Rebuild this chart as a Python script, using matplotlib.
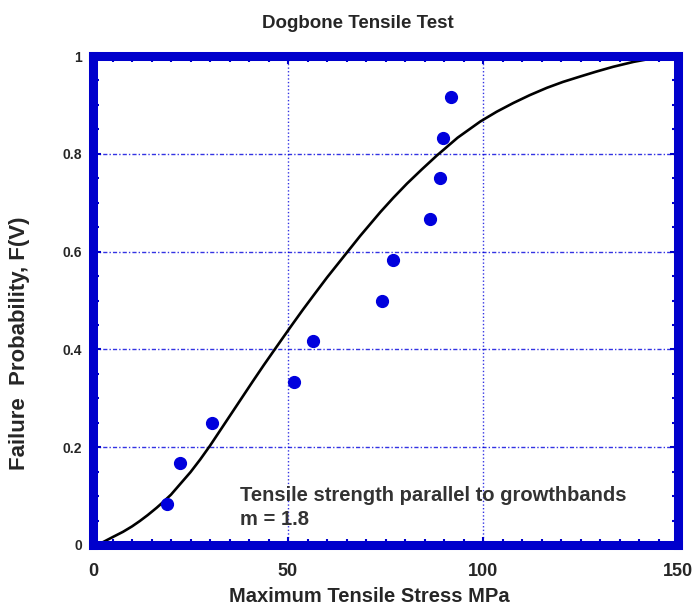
import matplotlib
matplotlib.use("Agg")
import matplotlib.pyplot as plt
from matplotlib.ticker import MultipleLocator

# Measured failure data (stress MPa, failure probability)
stress = [18.9, 22.2, 30.6, 51.5, 56.5, 74.0, 76.8, 86.5, 88.9, 89.8, 91.9]
prob = [0.083, 0.167, 0.25, 0.333, 0.417, 0.5, 0.583, 0.667, 0.75, 0.833, 0.917]

# Fitted Weibull curve (m = 1.8)
curve_x = [1.5, 2.6, 5.0, 7.7, 10.0, 12.0, 14.0, 16.3, 18.0, 20.0, 22.5, 25.0, 27.5,
           30.0, 32.5, 35.0, 38.0, 41.0, 43.8, 46.6, 48.8, 51.1, 53.8, 56.6, 60.0,
           63.5, 68.5, 73.7, 77.0, 80.5, 84.3, 88.1, 93.5, 99.3, 103.5, 107.8, 112.0,
           116.4, 120.5, 124.9, 129.0, 133.4, 136.0, 138.6, 142.0, 145.0, 150.0]
curve_y = [0.0, 0.006, 0.016, 0.027, 0.038, 0.049, 0.061, 0.076, 0.088, 0.103, 0.126,
           0.149, 0.175, 0.203, 0.233, 0.263, 0.299, 0.335, 0.368, 0.400, 0.425, 0.451,
           0.481, 0.511, 0.547, 0.582, 0.632, 0.681, 0.710, 0.739, 0.768, 0.796, 0.833,
           0.866, 0.886, 0.904, 0.920, 0.935, 0.947, 0.958, 0.968, 0.978, 0.983, 0.988,
           0.993, 0.997, 1.002]

xticks = [0, 50, 100, 150]
xticklabels = ["0", "50", "100", "150"]
yticks = [0, 0.2, 0.4, 0.6, 0.8, 1.0]
yticklabels = ["0", "0.2", "0.4", "0.6", "0.8", "1"]

FRAME = "#0000CC"
BLUE = "#0000DD"
TXT = "#262626"
plt.rcParams['font.family'] = ['Liberation Sans', 'DejaVu Sans']

W, H = 699, 609
fig = plt.figure(figsize=(W / 100, H / 100), dpi=100)
x0, x1, ytop, ybot = 93, 678, 56, 545
ax = fig.add_axes([x0 / W, (H - ybot) / H, (x1 - x0) / W, (ybot - ytop) / H])

ax.set_xlim(0, 150)
ax.set_ylim(0, 1)

# grid
for gx in [50, 100]:
    ax.axvline(gx, color=BLUE, lw=1.0, ls=(0, (1, 1.6)), alpha=0.8, zorder=1)
for gy in [0.2, 0.4, 0.6, 0.8]:
    ax.axhline(gy, color=BLUE, lw=1.0, ls=(0, (3, 1.5, 1, 1.5)), alpha=0.8, zorder=1)

ax.plot(curve_x, curve_y, color="black", lw=1.9, zorder=3, solid_joinstyle='round')
ax.plot(stress, prob, 'o', color=BLUE, ms=8.5, mec=BLUE, zorder=4)

for s in ax.spines.values():
    s.set_color(FRAME)
    s.set_linewidth(6.5)
    s.set_zorder(6)

ax.set_xticks(xticks)
ax.set_xticklabels(xticklabels, fontsize=13, fontweight='bold', color=TXT)
ax.set_yticks(yticks)
ax.set_yticklabels(yticklabels, fontsize=10, fontweight='bold', color=TXT)
ax.xaxis.set_minor_locator(MultipleLocator(5))
ax.yaxis.set_minor_locator(MultipleLocator(0.05))
ax.tick_params(which='both', direction='in', color=FRAME, top=True, right=True,
               width=1.5)
ax.tick_params(which='major', length=6, pad=8)
ax.tick_params(which='minor', length=4)
ax.tick_params(axis='x', which='major', pad=13)

fig.text(369 / W, 1 - 597 / H, "Maximum Tensile Stress MPa", ha='center', va='center',
         fontsize=14.5, fontweight='bold', color=TXT)
fig.text(20 / W, 1 - 343 / H, "Failure  Probability, F(V)", ha='center', va='center',
         rotation=90, fontsize=16, fontweight='bold', color=TXT)
fig.text(358 / W, 1 - 24 / H, "Dogbone Tensile Test", ha='center', va='center',
         fontsize=13.5, fontweight='bold', color=TXT)

ax.text(37.8, 0.102, "Tensile strength parallel to growthbands", fontsize=14.5,
        fontweight='bold', color="#333333", va='center', ha='left', zorder=5)
ax.text(37.8, 0.053, "m = 1.8", fontsize=14.5, fontweight='bold', color="#333333",
        va='center', ha='left', zorder=5)

fig.savefig("out.png", dpi=100)
